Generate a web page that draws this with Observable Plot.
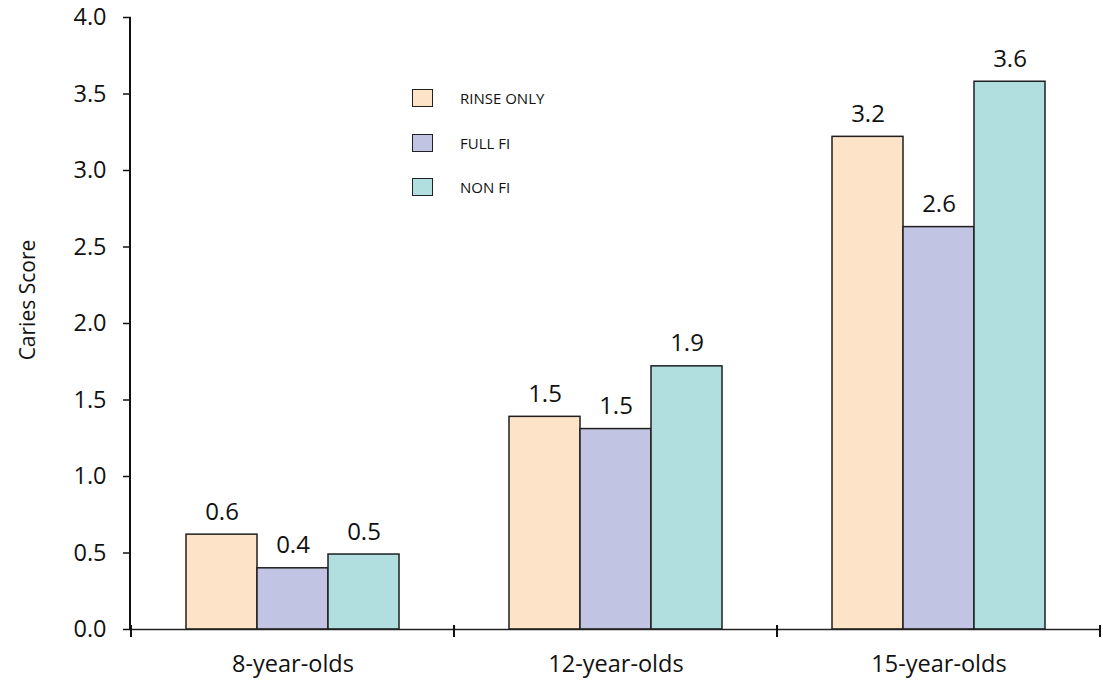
<!DOCTYPE html>
<html>
<head>
<meta charset="utf-8">
<script src="https://cdn.jsdelivr.net/npm/d3@7"></script>
<script src="https://cdn.jsdelivr.net/npm/@observablehq/plot@0.6"></script>
<style>
  html, body { margin: 0; padding: 0; background: #fff; }
  #wrap { position: relative; width: 1103px; height: 682px; font-family: "Open Sans", sans-serif; }
  #legend { position: absolute; left: 412px; top: 89px; font-size: 15px; color: #111; }
  .item { display: flex; align-items: center; height: 18px; margin-bottom: 26.5px; }
  .sw { width: 19px; height: 16px; border: 1.5px solid #222; box-sizing: content-box; }
  .lab { margin-left: 27px; line-height: 18px; }
</style>
</head>
<body>
<div id="wrap"><div id="legend"></div></div>
<script>
const categories = ["8-year-olds", "12-year-olds", "15-year-olds"];
const series = ["RINSE ONLY", "FULL FI", "NON FI"];
const rinseOnly = [0.62, 1.39, 3.22];
const fullFI = [0.40, 1.31, 2.63];
const nonFI = [0.49, 1.72, 3.58];
const rinseLabels = ["0.6", "1.5", "3.2"];
const fullLabels = ["0.4", "1.5", "2.6"];
const nonLabels = ["0.5", "1.9", "3.6"];
const colors = ["#FDE3C8", "#C2C4E4", "#B1DFE0"];
const yTicks = [0, 0.5, 1, 1.5, 2, 2.5, 3, 3.5, 4];
const yLabel = "Caries Score";

const valueSets = [rinseOnly, fullFI, nonFI];
const labelSets = [rinseLabels, fullLabels, nonLabels];
const table = [];
categories.forEach((c, i) => {
  series.forEach((s, j) => {
    table.push({cat: c, series: s, value: valueSets[j][i], label: labelSets[j][i]});
  });
});

const plot = Plot.plot({
  width: 1103,
  height: 682,
  marginLeft: 130,
  marginRight: 3,
  marginTop: 17,
  marginBottom: 53,
  style: {fontFamily: "'Open Sans', sans-serif", fontSize: "23px", color: "#111", background: "transparent", overflow: "visible"},
  fx: {domain: categories, padding: 0, label: null, tickSize: 0, tickPadding: 26},
  x: {domain: series, paddingInner: 0, paddingOuter: 0.75, axis: null},
  y: {domain: [0, 4], ticks: yTicks, tickFormat: d3.format(".1f"), tickSize: 8, tickPadding: 17, label: null},
  color: {domain: series, range: colors},
  marks: [
    Plot.barY(table, {fx: "cat", x: "series", y: "value", fill: "series", stroke: "#1f1f1f", strokeWidth: 1.5, inset: 0}),
    Plot.ruleY([0], {stroke: "#222", strokeWidth: 1.5}),
    Plot.text(table, {fx: "cat", x: "series", y: "value", text: "label", lineAnchor: "bottom", dy: -15, fontSize: 24, fill: "#111"})
  ]
});

const svg = d3.select(plot);
const fxS = plot.scale("fx");
const yS = plot.scale("y");
const y0 = yS.apply(0);
const yTop = yS.apply(4);
const xLeft = fxS.range[0];

// axis label fonts
svg.selectAll('g[aria-label="y-axis tick label"], g[aria-label="fx-axis tick label"]').attr("font-size", 23.5);
svg.selectAll('g[aria-label="y-axis tick label"] text, g[aria-label="fx-axis tick label"] text').attr("font-size", 23.5);
svg.selectAll('g[aria-label="y-axis tick"] path').attr("stroke-width", 1.5);

// y axis line
svg.append("line")
  .attr("x1", xLeft).attr("x2", xLeft)
  .attr("y1", y0 + 0.75).attr("y2", yTop)
  .attr("stroke", "#111").attr("stroke-width", 2);

// x band-edge ticks
const edges = categories.map(c => fxS.apply(c));
edges.push(fxS.apply(categories[categories.length - 1]) + fxS.bandwidth);
edges.forEach(e => {
  svg.append("line")
    .attr("x1", e).attr("x2", e)
    .attr("y1", y0 - 4).attr("y2", y0 + 8)
    .attr("stroke", "#111").attr("stroke-width", 2);
});

// y label
svg.append("text")
  .attr("transform", `translate(35, ${yS.apply(2.15)}) rotate(-90)`)
  .attr("text-anchor", "middle")
  .attr("font-size", 21)
  .attr("fill", "#111")
  .text(yLabel);

document.getElementById("wrap").prepend(plot);
plot.style.position = "absolute";
plot.style.left = "0";
plot.style.top = "0";

const legend = d3.select("#legend");
series.forEach((s, j) => {
  const it = legend.append("div").attr("class", "item");
  it.append("div").attr("class", "sw").style("background", colors[j]);
  it.append("div").attr("class", "lab").text(s);
});
</script>
</body>
</html>
